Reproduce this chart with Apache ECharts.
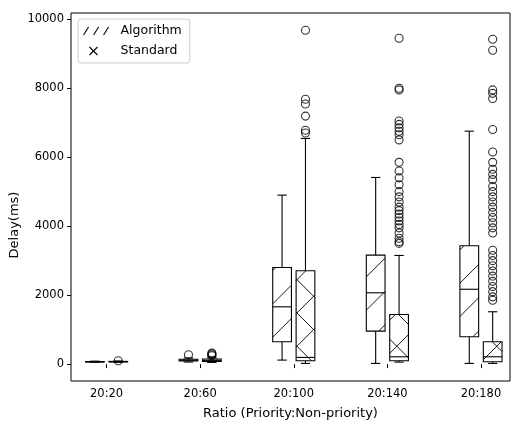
<!DOCTYPE html>
<html>
<head>
<meta charset="utf-8">
<script src="https://cdn.jsdelivr.net/npm/echarts@6/dist/echarts.min.js"></script>
<style>
  html, body { margin: 0; padding: 0; background: #fff; }
  #chart { width: 513px; height: 422px; }
</style>
</head>
<body>
<div id="chart"></div>
<script>
// Delay distribution per priority ratio
const categories = ['20:20', '20:60', '20:100', '20:140', '20:180'];

// [lower whisker, Q1, median, Q3, upper whisker] in ms
const algorithmStats = [
  [55, 62, 68, 74, 85],
  [60, 90, 110, 140, 180],
  [116, 646, 1661, 2803, 4899],
  [20, 957, 2067, 3159, 5411],
  [20, 792, 2170, 3430, 6754]
];
const standardStats = [
  [55, 65, 70, 78, 90],
  [50, 80, 110, 150, 200],
  [20, 96, 194, 2705, 6542],
  [58, 97, 212, 1440, 3150],
  [20, 67, 212, 647, 1517]
];

const algorithmOutliers = [[], [270], [], [], []];
const standardOutliers = [
  [95],
  [240, 270, 300, 320],
  [9680, 7680, 7540, 7190, 6780, 6700],
  [9450, 8000, 7950, 7050, 6950, 6850, 6750, 6650, 6500, 5850, 5600, 5400, 5200, 5000,
   4850, 4700, 4550, 4450, 4350, 4250, 4150, 4050, 3950, 3800, 3650, 3550, 3500],
  [9420, 9100, 7950, 7850, 7700, 6800, 6150, 5850, 5650, 5500, 5350, 5150, 5000, 4850,
   4700, 4550, 4400, 4250, 4100, 3950, 3800, 3300, 3150, 3000, 2850, 2700, 2550, 2400,
   2250, 2100, 1950, 1850]
];

const yTicks = [0, 2000, 4000, 6000, 8000, 10000];
const xTicks = [1, 2, 3, 4, 5];

// box geometry in x-axis units
const GROUP_OFFSET = 0.125;
const BOX_WIDTH = 0.2;
// hatch spacing (px, measured along the vertical) and phases
const HATCH_STEP = 33.3;
const HATCH_PHASE_NE = 10.5;
const HATCH_PHASE_NW = 16;

const FONT = 'DejaVu Sans';

function boxData(stats, offset) {
  return stats.map((s, i) => [i + 1 + offset].concat(s));
}
function outlierData(list, offset) {
  const out = [];
  list.forEach((vals, i) => vals.forEach(v => out.push([i + 1 + offset, v])));
  return out;
}

// hatch segments clipped to a rectangle; kind 'ne' => '/', 'nw' => '\'
function hatchLines(x0, y0, x1, y1, kind) {
  const segs = [];
  const style = { stroke: '#000', lineWidth: 0.9 };
  if (kind === 'ne') {
    // lines x + y = c
    let c = Math.ceil((x0 + y0 - HATCH_PHASE_NE) / HATCH_STEP) * HATCH_STEP + HATCH_PHASE_NE;
    for (; c <= x1 + y1; c += HATCH_STEP) {
      const xa = Math.max(x0, c - y1), xb = Math.min(x1, c - y0);
      if (xb > xa) segs.push({ type: 'line', shape: { x1: xa, y1: c - xa, x2: xb, y2: c - xb }, style });
    }
  } else {
    // lines y - x = d
    let d = Math.ceil((y0 - x1 - HATCH_PHASE_NW) / HATCH_STEP) * HATCH_STEP + HATCH_PHASE_NW;
    for (; d <= y1 - x0; d += HATCH_STEP) {
      const xa = Math.max(x0, y0 - d), xb = Math.min(x1, y1 - d);
      if (xb > xa) segs.push({ type: 'line', shape: { x1: xa, y1: xa + d, x2: xb, y2: xb + d }, style });
    }
  }
  return segs;
}

function boxRenderer(hatchKinds) {
  return function (params, api) {
    const x = api.value(0);
    const pLow = api.coord([x, api.value(1)]);
    const pQ1 = api.coord([x, api.value(2)]);
    const pMed = api.coord([x, api.value(3)]);
    const pQ3 = api.coord([x, api.value(4)]);
    const pHigh = api.coord([x, api.value(5)]);
    const half = api.size([BOX_WIDTH, 0])[0] / 2;
    const capHalf = half / 2;
    const cx = pLow[0];
    const line = { stroke: '#000', lineWidth: 1.1 };
    const x0 = cx - half, x1 = cx + half;
    const yTop = pQ3[1], yBot = pQ1[1];
    const children = [
      { type: 'line', shape: { x1: cx, y1: pLow[1], x2: cx, y2: yBot }, style: line },
      { type: 'line', shape: { x1: cx, y1: yTop, x2: cx, y2: pHigh[1] }, style: line },
      { type: 'line', shape: { x1: cx - capHalf, y1: pLow[1], x2: cx + capHalf, y2: pLow[1] }, style: line },
      { type: 'line', shape: { x1: cx - capHalf, y1: pHigh[1], x2: cx + capHalf, y2: pHigh[1] }, style: line },
      { type: 'rect', shape: { x: x0, y: yTop, width: x1 - x0, height: Math.max(yBot - yTop, 0.5) },
        style: { fill: '#fff', stroke: '#000', lineWidth: 1.1 } }
    ];
    hatchKinds.forEach(k => {
      hatchLines(x0, yTop, x1, yBot, k).forEach(s => children.push(s));
    });
    children.push({ type: 'line', shape: { x1: x0, y1: pMed[1], x2: x1, y2: pMed[1] }, style: line });
    return { type: 'group', children };
  };
}

const chart = echarts.init(document.getElementById('chart'), null, { renderer: 'canvas' });

chart.setOption({
  animation: false,
  backgroundColor: '#fff',
  grid: {
    left: 71, right: 3, top: 13, bottom: 41,
    outerBoundsMode: 'none',
    containLabel: false,
    show: true, borderColor: '#000', borderWidth: 1, backgroundColor: 'transparent'
  },
  legend: {
    orient: 'vertical',
    left: 78, top: 19,
    padding: [5, 8, 5, 5],
    itemWidth: 27, itemHeight: 8, itemGap: 6,
    align: 'left',
    backgroundColor: 'rgba(255,255,255,0.8)',
    borderColor: '#cccccc', borderWidth: 1, borderRadius: 3,
    textStyle: { fontFamily: FONT, fontSize: 12.5, color: '#000', lineHeight: 14, padding: [0, 0, 0, 5] },
    itemStyle: { color: 'transparent', borderColor: '#000', borderWidth: 1.1 },
    data: [
      { name: 'Algorithm', icon: 'path://M0,8L5,0M10,8L15,0M20,8L25,0M27,0' },
      { name: 'Standard', icon: 'path://M0,0M27,9M5,0L14,9M14,0L5,9' }
    ]
  },
  xAxis: {
    type: 'value',
    min: 0.62, max: 5.31,
    name: 'Ratio (Priority:Non-priority)',
    nameLocation: 'middle', nameGap: 26,
    nameMoveOverlap: false,
    nameTextStyle: { fontFamily: FONT, fontSize: 13, color: '#000' },
    axisLine: { show: false },
    axisTick: { show: true, length: 4, customValues: xTicks, lineStyle: { color: '#000' } },
    axisLabel: {
      customValues: xTicks, margin: 7,
      fontFamily: FONT, fontSize: 11.5, color: '#000',
      formatter: v => categories[Math.round(v) - 1]
    },
    splitLine: { show: false }
  },
  yAxis: {
    type: 'value',
    min: -490, max: 10180,
    name: 'Delay(ms)',
    nameLocation: 'middle', nameGap: 50, nameRotate: 90,
    nameMoveOverlap: false,
    nameTextStyle: { fontFamily: FONT, fontSize: 13, color: '#000', padding: [0, 56, 0, 0] },
    axisLine: { show: false },
    axisTick: { show: true, length: 4, customValues: yTicks, lineStyle: { color: '#000' } },
    axisLabel: {
      customValues: yTicks, margin: 7, fontFamily: FONT, fontSize: 11.5, color: '#000',
      formatter: v => String(Math.round(v))
    },
    splitLine: { show: false }
  },
  series: [
    {
      name: 'Algorithm', type: 'custom',
      renderItem: boxRenderer(['ne']),
      encode: { x: 0, y: [1, 2, 3, 4, 5] },
      data: boxData(algorithmStats, -GROUP_OFFSET),
      z: 2
    },
    {
      name: 'Standard', type: 'custom',
      renderItem: boxRenderer(['ne', 'nw']),
      encode: { x: 0, y: [1, 2, 3, 4, 5] },
      data: boxData(standardStats, GROUP_OFFSET),
      z: 2
    },
    {
      name: 'Algorithm outliers', type: 'scatter',
      symbol: 'circle', symbolSize: 8,
      itemStyle: { color: 'transparent', borderColor: '#000', borderWidth: 1.1 },
      data: outlierData(algorithmOutliers, -GROUP_OFFSET),
      z: 3
    },
    {
      name: 'Standard outliers', type: 'scatter',
      symbol: 'circle', symbolSize: 8,
      itemStyle: { color: 'transparent', borderColor: '#000', borderWidth: 1.1 },
      data: outlierData(standardOutliers, GROUP_OFFSET),
      z: 3
    }
  ]
});
</script>
</body>
</html>
